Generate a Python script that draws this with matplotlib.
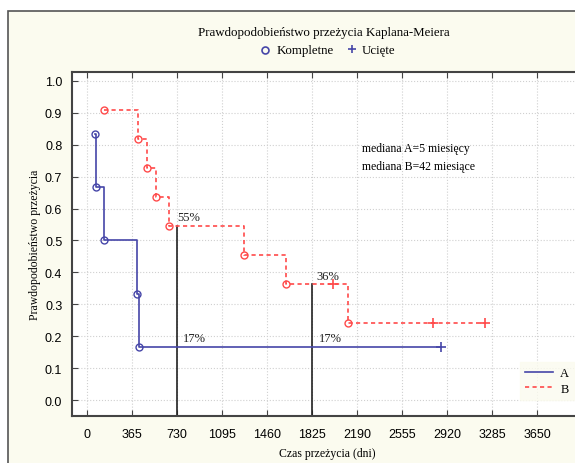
import matplotlib
matplotlib.use("Agg")
import matplotlib.pyplot as plt
from matplotlib.patches import Rectangle
from matplotlib.lines import Line2D

# group A (events = circles, censored = plus)
a_event_t = [65, 70, 140, 405, 420]
a_event_s = [0.833, 0.667, 0.500, 0.333, 0.167]
a_cens_t = [2870]
a_cens_s = [0.167]

# group B
b_event_t = [138, 414, 487, 560, 665, 1273, 1614, 2117]
b_event_s = [0.909, 0.818, 0.727, 0.636, 0.545, 0.455, 0.364, 0.242]
b_cens_t = [1995, 2806, 3228]
b_cens_s = [0.364, 0.242, 0.242]

medians_t = [730, 1825]
medians_s = [0.545, 0.364]
labels = [(735, 0.565, "55%"), (1860, 0.38, "36%"),
          (780, 0.185, "17%"), (1880, 0.185, "17%")]

xticks = [0, 365, 730, 1095, 1460, 1825, 2190, 2555, 2920, 3285, 3650]
yticks = [0.0, 0.1, 0.2, 0.3, 0.4, 0.5, 0.6, 0.7, 0.8, 0.9, 1.0]

blue = "#4646a8"
red = "#ff4a4a"
cream = "#fbfbef"
serif = "Liberation Serif"
sans = "Liberation Sans"


def km_path(ev_t, ev_s, c_t, c_s):
    pts = sorted(list(zip(ev_t, ev_s)) + list(zip(c_t, c_s)))
    xs, ys = [pts[0][0]], [pts[0][1]]
    for t, s in pts[1:]:
        xs += [t, t]
        ys += [ys[-1], s]
    return xs, ys


fig = plt.figure(figsize=(5.75, 4.64), dpi=100)
fig.patch.set_facecolor("white")
fig.patches.append(Rectangle((8 / 575, -0.2), 1.2, 1.2 - 12 / 464,
                             transform=fig.transFigure, facecolor=cream,
                             edgecolor="#555555", linewidth=1.2, zorder=-10))

ax = fig.add_axes([72 / 575, 47 / 464, 510 / 575, 344 / 464])
ax.set_facecolor("white")
ax.set_xlim(-122, 4015)
ax.set_ylim(-0.05, 1.028)

ax.grid(True, color="#d0d0d0", linestyle=":", linewidth=0.8)
ax.set_axisbelow(True)

for t, s in zip(medians_t, medians_s):
    ax.plot([t, t], [-0.05, s], color="#222222", linewidth=1.2, zorder=2)

xa, ya = km_path(a_event_t, a_event_s, a_cens_t, a_cens_s)
ax.plot(xa, ya, color=blue, linewidth=1.2, zorder=3)
ax.plot(a_event_t, a_event_s, "o", mfc="none", mec=blue, ms=5, mew=1, zorder=4)
ax.plot(a_cens_t, a_cens_s, "+", color=blue, ms=7, mew=1.2, zorder=4)

xb, yb = km_path(b_event_t, b_event_s, b_cens_t, b_cens_s)
ax.plot(xb, yb, color=red, linewidth=1.2, linestyle=(0, (2.5, 2)), zorder=3)
ax.plot(b_event_t, b_event_s, "o", mfc="none", mec=red, ms=5, mew=1, zorder=4)
ax.plot(b_cens_t, b_cens_s, "+", color=red, ms=7, mew=1.2, zorder=4)

for x, y, txt in labels:
    ax.text(x, y, txt, fontsize=9, family=serif, color="#222222")

ax.text(2230, 0.78, "mediana A=5 miesięcy", fontsize=8.5, family=serif)
ax.text(2230, 0.725, "mediana B=42 miesiące", fontsize=8.5, family=serif)

ax.set_xticks(xticks)
ax.set_yticks(yticks)
ax.set_xticklabels([str(t) for t in xticks], family=sans, fontsize=9)
ax.set_yticklabels([f"{t:.1f}" for t in yticks], family=sans, fontsize=9)
ax.tick_params(direction="in", length=4, color="#444444", top=True, pad=7)
ax.tick_params(axis="x", pad=9)
for sp in ax.spines.values():
    sp.set_color("#444444")
    sp.set_linewidth(1.5)

ax.set_xlabel("Czas przeżycia (dni)", family=serif, fontsize=8.5, labelpad=5)
ax.set_ylabel("Prawdopodobieństwo przeżycia", family=serif, fontsize=8.5, labelpad=3)

fig.text(324 / 575, 1 - 33 / 464, "Prawdopodobieństwo przeżycia Kaplana-Meiera",
         ha="center", va="center", family=serif, fontsize=9.3)
fig.text(305 / 575, 1 - 51 / 464, "Kompletne", ha="center", va="center",
         family=serif, fontsize=9.3)
fig.text(379 / 575, 1 - 51 / 464, "Ucięte", ha="center", va="center",
         family=serif, fontsize=9.3)
fig.lines.append(Line2D([265 / 575], [1 - 51 / 464], marker="o", mfc="none",
                        mec=blue, ms=5, mew=1.2, transform=fig.transFigure))
fig.lines.append(Line2D([352 / 575], [1 - 50 / 464], marker="+", color=blue,
                        ms=6, mew=1.2, transform=fig.transFigure))

h_a = Line2D([], [], color=blue, linewidth=1.2)
h_b = Line2D([], [], color=red, linewidth=1.2, linestyle=(0, (2.5, 2)))
leg = ax.legend([h_a, h_b], ["A", "B"], loc="lower left",
                bbox_to_anchor=(514 / 575, 57 / 464), bbox_transform=fig.transFigure,
                prop={"family": serif, "size": 9}, frameon=True, fancybox=False,
                handlelength=2.2, borderpad=0.4, labelspacing=0.3,
                handletextpad=0.6)
leg.get_frame().set_facecolor(cream)
leg.get_frame().set_edgecolor(cream)

fig.savefig("out.png", dpi=100)
